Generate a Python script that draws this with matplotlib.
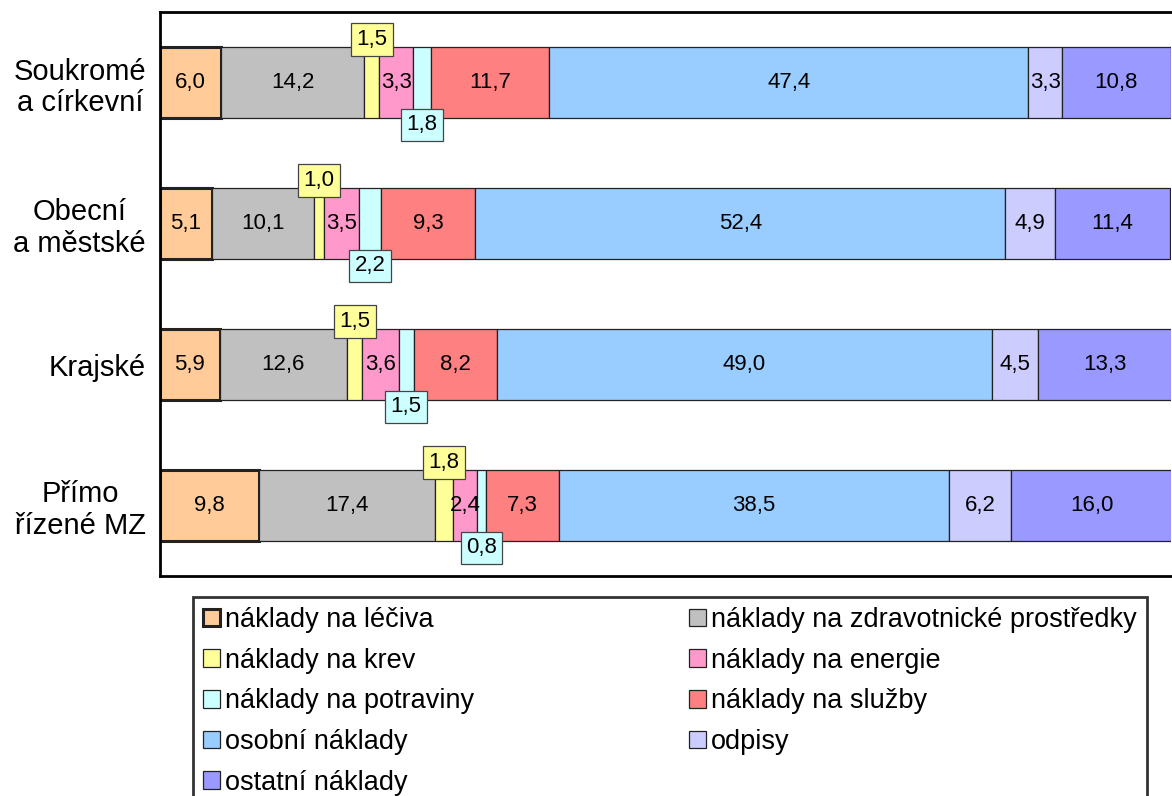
import matplotlib.pyplot as plt
import matplotlib.patches as mpatches

plt.rcParams['font.family'] = ['Liberation Sans', 'DejaVu Sans']

# kategorie (shora dolů)
categories = ['Soukromé\na církevní', 'Obecní\na městské', 'Krajské', 'Přímo\nřízené MZ']

series_names = ['náklady na léčiva', 'náklady na zdravotnické prostředky',
                'náklady na krev', 'náklady na energie',
                'náklady na potraviny', 'náklady na služby',
                'osobní náklady', 'odpisy', 'ostatní náklady']

leciva = [6.0, 5.1, 5.9, 9.8]
zdrav_prostredky = [14.2, 10.1, 12.6, 17.4]
krev = [1.5, 1.0, 1.5, 1.8]
energie = [3.3, 3.5, 3.6, 2.4]
potraviny = [1.8, 2.2, 1.5, 0.8]
sluzby = [11.7, 9.3, 8.2, 7.3]
osobni = [47.4, 52.4, 49.0, 38.5]
odpisy = [3.3, 4.9, 4.5, 6.2]
ostatni = [10.8, 11.4, 13.3, 16.0]

series = [leciva, zdrav_prostredky, krev, energie, potraviny, sluzby, osobni, odpisy, ostatni]
colors = ['#FFCC99', '#C0C0C0', '#FFFF99', '#FF99CC', '#CCFFFF',
          '#FF8080', '#99CCFF', '#CCCCFF', '#9999FF']

fig = plt.figure(figsize=(11.72, 7.96), dpi=100)
ax = fig.add_axes([160 / 1172, 1 - 576 / 796, 1011 / 1172, 564 / 796])

y = list(range(len(categories)))
left = [0.0] * len(categories)
for i, (vals, col) in enumerate(zip(series, colors)):
    lw = 2.2 if i == 0 else 0.9
    ax.barh(y, vals, left=left, height=0.505, color=col, edgecolor='#222222', linewidth=lw)
    for j, v in enumerate(vals):
        xc = left[j] + v / 2
        txt = f'{v:.1f}'.replace('.', ',')
        if i == 2:
            # krev - popisek nad pruhem
            ax.text(xc, y[j] - 0.305, txt, ha='center', va='center', fontsize=16,
                    bbox=dict(boxstyle='square,pad=0.25', fc=col, ec='#444444', lw=0.9))
        elif i == 4:
            # potraviny - popisek pod pruhem
            ax.text(xc, y[j] + 0.3, txt, ha='center', va='center', fontsize=16,
                    bbox=dict(boxstyle='square,pad=0.25', fc=col, ec='#444444', lw=0.9))
        else:
            ax.text(xc, y[j], txt, ha='center', va='center', fontsize=16)
    left = [a + b for a, b in zip(left, vals)]

ax.set_xlim(0, 100)
ax.set_ylim(3.5, -0.5)
ax.set_xticks([])
ax.set_yticks(y)
ax.set_yticklabels(categories, fontsize=21, multialignment='center', linespacing=1.15)
ax.tick_params(axis='y', length=0, pad=10)
for s in ['left', 'top', 'bottom']:
    ax.spines[s].set_linewidth(2)
ax.spines['right'].set_visible(False)

# legenda - řazení po řádcích
handles = [mpatches.Patch(facecolor=c, edgecolor='#222222', linewidth=2.2 if k == 0 else 0.9, label=n)
           for k, (c, n) in enumerate(zip(colors, series_names))]
order = [0, 2, 4, 6, 8, 1, 3, 5, 7]
leg = fig.legend([handles[k] for k in order], [series_names[k] for k in order],
                 loc='upper left', bbox_to_anchor=(193 / 1172, 1 - 597 / 796),
                 ncol=2, fontsize=19.5, frameon=True, fancybox=False,
                 handlelength=0.62, handleheight=0.62, handletextpad=0.18,
                 labelspacing=0.54, columnspacing=7.95, borderaxespad=0,
                 borderpad=0.37)
leg.get_frame().set_edgecolor('black')
leg.get_frame().set_linewidth(2)

fig.savefig('out.png', dpi=100)
